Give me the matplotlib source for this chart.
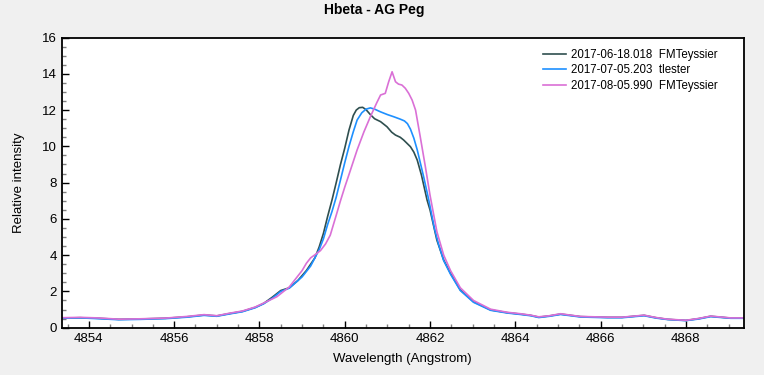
import matplotlib
matplotlib.use("Agg")
import matplotlib.pyplot as plt
from matplotlib.ticker import MultipleLocator

plt.rcParams['font.family'] = ['Liberation Sans', 'DejaVu Sans']

# ---- data ----
wl_dark = [4853.37, 4853.8, 4854.2, 4854.7, 4855.2, 4855.8, 4856.3, 4856.7, 4857.0, 4857.3,
           4857.6, 4857.9, 4858.1, 4858.3, 4858.5, 4858.7, 4858.9, 4859.1, 4859.3, 4859.4,
           4859.5, 4859.6, 4859.7, 4859.8, 4859.9, 4860.0, 4860.1, 4860.2, 4860.27, 4860.34,
           4860.42, 4860.5, 4860.6, 4860.7, 4860.84, 4860.99, 4861.1, 4861.19, 4861.3, 4861.38,
           4861.54, 4861.62, 4861.7, 4861.8, 4861.93, 4862.0, 4862.16, 4862.32, 4862.48, 4862.71,
           4863.02, 4863.42, 4863.81, 4864.12, 4864.36, 4864.55, 4864.8, 4865.06, 4865.3, 4865.53,
           4866.16, 4866.5, 4867.02, 4867.3, 4867.57, 4868.0, 4868.3, 4868.58, 4869.05, 4869.35]
int_dark = [0.53, 0.55, 0.52, 0.46, 0.48, 0.52, 0.60, 0.70, 0.65, 0.78,
            0.90, 1.12, 1.34, 1.68, 2.05, 2.20, 2.60, 3.15, 3.85, 4.45,
            5.20, 6.15, 7.03, 8.00, 9.00, 9.90, 10.90, 11.70, 12.00, 12.13,
            12.15, 12.02, 11.75, 11.52, 11.36, 11.08, 10.78, 10.62, 10.50, 10.35,
            9.98, 9.68, 9.24, 8.40, 7.04, 6.49, 4.83, 3.73, 3.00, 2.08,
            1.43, 0.98, 0.83, 0.75, 0.68, 0.58, 0.65, 0.75, 0.68, 0.61,
            0.57, 0.57, 0.68, 0.55, 0.46, 0.40, 0.50, 0.63, 0.53, 0.53]

wl_blue = [4853.37, 4853.8, 4854.2, 4854.7, 4855.2, 4855.8, 4856.3, 4856.7, 4857.0, 4857.3,
           4857.6, 4857.9, 4858.1, 4858.3, 4858.5, 4858.7, 4859.0, 4859.2, 4859.4, 4859.5,
           4859.6, 4859.7, 4859.8, 4859.9, 4860.0, 4860.1, 4860.2, 4860.29, 4860.4, 4860.5,
           4860.6, 4860.7, 4860.84, 4861.0, 4861.15, 4861.3, 4861.4, 4861.47, 4861.54, 4861.62,
           4861.7, 4861.85, 4861.97, 4862.1, 4862.2, 4862.32, 4862.48, 4862.71, 4863.02, 4863.42,
           4863.81, 4864.12, 4864.36, 4864.55, 4864.8, 4865.06, 4865.3, 4865.53, 4866.16, 4866.5,
           4867.02, 4867.3, 4867.57, 4868.0, 4868.3, 4868.58, 4869.05, 4869.35]
int_blue = [0.52, 0.54, 0.50, 0.44, 0.46, 0.50, 0.58, 0.68, 0.63, 0.76,
            0.88, 1.10, 1.32, 1.62, 2.00, 2.18, 2.80, 3.40, 4.30, 4.90,
            5.70, 6.40, 7.20, 8.15, 9.10, 10.00, 10.80, 11.45, 11.85, 12.05,
            12.12, 12.05, 11.90, 11.75, 11.63, 11.50, 11.40, 11.25, 10.95, 10.45,
            9.80, 8.32, 7.04, 5.50, 4.60, 3.70, 2.95, 2.05, 1.40, 0.96,
            0.81, 0.73, 0.66, 0.56, 0.63, 0.73, 0.66, 0.59, 0.55, 0.55,
            0.66, 0.53, 0.45, 0.39, 0.48, 0.61, 0.52, 0.52]

wl_mag = [4853.37, 4853.8, 4854.2, 4854.7, 4855.2, 4855.8, 4856.3, 4856.7, 4857.0, 4857.3,
          4857.6, 4857.9, 4858.1, 4858.41, 4858.7, 4859.0, 4859.1, 4859.2, 4859.3, 4859.43,
          4859.55, 4859.66, 4859.8, 4859.9, 4860.0, 4860.1, 4860.29, 4860.45, 4860.6, 4860.75,
          4860.84, 4860.95, 4861.03, 4861.11, 4861.19, 4861.26, 4861.34, 4861.42, 4861.5, 4861.58,
          4861.66, 4861.77, 4861.89, 4862.0, 4862.16, 4862.32, 4862.48, 4862.71, 4863.02, 4863.42,
          4863.81, 4864.12, 4864.36, 4864.55, 4864.8, 4865.06, 4865.3, 4865.53, 4866.16, 4866.5,
          4867.02, 4867.3, 4867.57, 4868.0, 4868.3, 4868.58, 4869.05, 4869.35]
int_mag = [0.55, 0.57, 0.54, 0.47, 0.49, 0.53, 0.62, 0.72, 0.66, 0.80,
           0.92, 1.14, 1.36, 1.71, 2.25, 3.15, 3.55, 3.85, 4.02, 4.25,
           4.62, 5.10, 6.20, 7.00, 7.75, 8.45, 9.80, 10.80, 11.63, 12.40,
           12.83, 12.92, 13.56, 14.11, 13.56, 13.43, 13.38, 13.20, 12.92, 12.55,
           12.00, 10.53, 8.88, 7.30, 5.30, 4.00, 3.15, 2.20, 1.50, 1.02,
           0.85, 0.77, 0.69, 0.60, 0.66, 0.77, 0.69, 0.62, 0.58, 0.58,
           0.69, 0.56, 0.47, 0.41, 0.51, 0.64, 0.54, 0.54]

labels = ["2017-06-18.018  FMTeyssier", "2017-07-05.203  tlester", "2017-08-05.990  FMTeyssier"]
colors = ["#2f4f4f", "#1e90ff", "#da70d6"]

# ---- figure ----
fig = plt.figure(figsize=(7.64, 3.75), dpi=100, facecolor="#f0f0f0")
ax = fig.add_axes([62/764, 1-327.7/375, (743.5-62)/764, (327.7-37.5)/375])
ax.set_facecolor("white")

for wl, it, lab, c in zip([wl_dark, wl_blue, wl_mag], [int_dark, int_blue, int_mag], labels, colors):
    ax.plot(wl, it, color=c, lw=1.2, label=lab)

ax.set_xlim(4853.37, 4869.35)
ax.set_ylim(0, 16)
ax.xaxis.set_major_locator(MultipleLocator(2))
ax.xaxis.set_minor_locator(MultipleLocator(0.5))
ax.yaxis.set_major_locator(MultipleLocator(2))
ax.yaxis.set_minor_locator(MultipleLocator(0.5))
ax.tick_params(which="both", direction="in", top=False, right=False, labelsize=9.5)
ax.tick_params(which="major", length=5, width=1, color="black")
ax.tick_params(which="minor", length=3, width=1, color="#808080")
for s in ax.spines.values():
    s.set_linewidth(1.3)
    s.set_color("black")

ax.set_xlabel("Wavelength (Angstrom)", fontsize=9.5, labelpad=6)
ax.set_ylabel("Relative intensity", fontsize=9.5)
ax.yaxis.set_label_coords((25 - 62) / 681.5, 0.5)
fig.text(374/764, 1-10/375, "Hbeta - AG Peg", ha="center", va="center", fontsize=10, fontweight="bold")

leg = ax.legend(loc="upper left", frameon=False, fontsize=8.3, handlelength=2.0,
                handletextpad=0.45, labelspacing=0.3, borderpad=0, borderaxespad=0,
                bbox_to_anchor=((543 - 62) / 681.5, (327.7 - 49) / 290.2))

fig.savefig("out.png", dpi=100, facecolor=fig.get_facecolor())
